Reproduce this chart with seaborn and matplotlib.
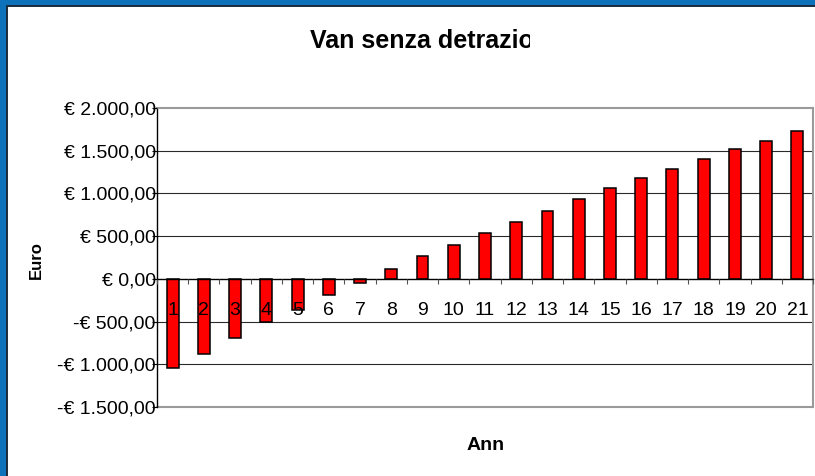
import matplotlib
matplotlib.use("Agg")
import matplotlib.pyplot as plt
import seaborn as sns
import pandas as pd
from matplotlib.patches import Rectangle
from matplotlib.lines import Line2D
from matplotlib.transforms import Bbox, TransformedBbox

# ---- data ----
years = [str(i) for i in range(1, 22)]
van = [-1045, -878, -690, -510, -365, -190, -43, 111, 267, 398, 534,
       665, 800, 932, 1063, 1179, 1291, 1407, 1520, 1616, 1732]
y_ticks = [-1500, -1000, -500, 0, 500, 1000, 1500, 2000]
y_tick_labels = ["-€ 1.500,00", "-€ 1.000,00", "-€ 500,00", "€ 0,00",
                 "€ 500,00", "€ 1.000,00", "€ 1.500,00", "€ 2.000,00"]
title_text = "Van senza detrazio"
x_label = "Ann"
y_label = "Euro"

sns.set_theme(style="white")
plt.rcParams['font.family'] = ['Liberation Sans', 'DejaVu Sans']

W, H = 815, 476
fig = plt.figure(figsize=(W / 100, H / 100), dpi=100)
fig.patch.set_facecolor("white")

# blue frame on left and top
blue = "#0e72ba"
fig.add_artist(Rectangle((0, 0), 7 / W, 1, transform=fig.transFigure,
                         facecolor=blue, edgecolor="none", zorder=0))
fig.add_artist(Rectangle((0, 1 - 6 / H), 1, 6 / H, transform=fig.transFigure,
                         facecolor=blue, edgecolor="none", zorder=0))
fig.add_artist(Line2D([7 / W, 7 / W], [0, 1 - 6 / H], transform=fig.transFigure,
                      color="#1b2b3b", lw=1.4))
fig.add_artist(Line2D([7 / W, 1], [1 - 6 / H, 1 - 6 / H], transform=fig.transFigure,
                      color="#1b2b3b", lw=1.4))

left, right, top, bottom = 157, 813, 108, 407
ax = fig.add_axes([left / W, 1 - bottom / H, (right - left) / W, (bottom - top) / H])
ax.set_facecolor("white")

df = pd.DataFrame({"anno": years, "van": van})
sns.barplot(data=df, x="anno", y="van", order=years, color="#ff0000", saturation=1,
            edgecolor="black", linewidth=1.1, width=0.38, ax=ax, zorder=2)
ax.set_axisbelow(False)

ax.set_ylim(-1500, 2000)
ax.set_xlim(-0.5, len(years) - 0.5)

# grid lines
for v in y_ticks:
    if v in (0, -1500, 2000):
        continue
    ax.axhline(v, color="#2a2a2a", lw=0.8, zorder=0.5)
ax.axhline(-1500, color="#9a9a9a", lw=1.5, zorder=0.5, clip_on=False)

ax.spines["top"].set_color("#9a9a9a")
ax.spines["top"].set_linewidth(1.5)
ax.spines["right"].set_color("#9a9a9a")
ax.spines["right"].set_linewidth(1.5)
ax.spines["left"].set_color("black")
ax.spines["left"].set_linewidth(1.0)
ax.spines["bottom"].set_position(("data", 0))
ax.spines["bottom"].set_color("black")
ax.spines["bottom"].set_linewidth(1.0)

ax.set_yticks(y_ticks)
ax.set_yticklabels(y_tick_labels)
ax.tick_params(axis="y", which="major", length=3.6, width=0.8, color="black",
               direction="out", pad=-2.7, labelsize=14, labelcolor="black", left=True)

ax.set_xticks(range(len(years)))
ax.set_xticklabels(years)
ax.set_xticks([i - 0.5 for i in range(len(years) + 1)], minor=True)
ax.tick_params(axis="x", which="major", length=0, pad=17, labelsize=14,
               labelcolor="black", bottom=True)
ax.tick_params(axis="x", which="minor", length=3.6, width=0.8, color="#555555",
               direction="out", bottom=True)
ax.set_xlabel("")
ax.set_ylabel("")

# axis titles
fig.text(486 / W, 1 - 450 / H, x_label, ha="center", va="baseline",
         fontsize=14, fontweight="bold", color="black")
fig.text(36 / W, 1 - 260 / H, y_label, ha="center", va="center", rotation=90,
         fontsize=12, fontweight="bold", color="black")

# title (clipped as in the original)
t = fig.text(310 / W, 1 - 48 / H, title_text, ha="left", va="baseline",
             fontsize=18, fontweight="bold", color="black")
t.set_clip_box(TransformedBbox(Bbox([[0, 0], [530 / W, 1]]), fig.transFigure))
t.set_clip_on(True)

fig.savefig("out.png", dpi=100, facecolor="white")
